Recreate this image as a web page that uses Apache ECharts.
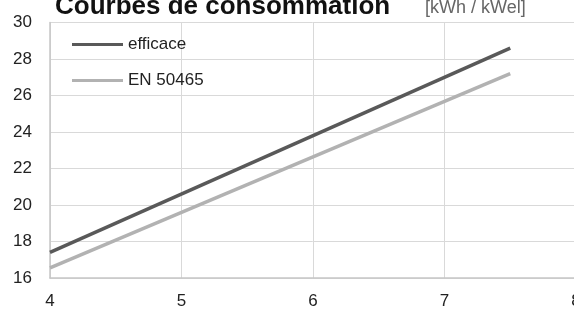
<!DOCTYPE html>
<html>
<head>
<meta charset="utf-8">
<script src="https://cdn.jsdelivr.net/npm/echarts@6/dist/echarts.min.js"></script>
<style>html,body{margin:0;padding:0;background:#fff;}#c{width:574px;height:309px;}</style>
</head>
<body>
<div id="c"></div>
<script>
const titleText = 'Courbes de consommation';
const unitText = '[kWh / kWel]';
const seriesNames = ['efficace', 'EN 50465'];
const xValues = [4, 7.5];
const efficaceValues = [17.4, 28.6];
const en50465Values = [16.55, 27.2];
const xTicks = [4, 5, 6, 7, 8];
const yTicks = [16, 18, 20, 22, 24, 26, 28, 30];

const chart = echarts.init(document.getElementById('c'), null, {renderer: 'canvas'});
const font = 'Liberation Sans, Arial, Helvetica, sans-serif';
chart.setOption({
  animation: false,
  backgroundColor: '#fff',
  textStyle: {fontFamily: font},
  graphic: [
    {type: 'text', left: 55, top: -6, style: {text: titleText, font: 'bold 26px ' + font, fill: '#111'}},
    {type: 'text', left: 425, top: -1, style: {text: unitText, font: '18px ' + font, fill: '#666'}}
  ],
  legend: {
    orient: 'vertical', left: 67, top: 31, itemWidth: 51, itemHeight: 3, itemGap: 19,
    icon: 'rect',
    textStyle: {fontSize: 17, color: '#222', fontFamily: font, lineHeight: 17},
    data: seriesNames
  },
  grid: {left: 50, top: 22.5, width: 526, height: 255.5, containLabel: false, outerBoundsMode: 'none'},
  xAxis: {
    type: 'value', min: xTicks[0], max: xTicks[xTicks.length - 1], interval: 1,
    axisLine: {show: true, lineStyle: {color: '#c6c6c6', width: 1.5}},
    axisTick: {show: false},
    axisLabel: {fontSize: 17, color: '#222', margin: 15, fontFamily: font},
    splitLine: {show: true, lineStyle: {color: '#d9d9d9', width: 1}}
  },
  yAxis: {
    type: 'value', min: yTicks[0], max: yTicks[yTicks.length - 1], interval: 2,
    axisLine: {show: true, lineStyle: {color: '#c6c6c6', width: 1.5}},
    axisTick: {show: false},
    axisLabel: {fontSize: 17, color: '#222', margin: 18, fontFamily: font},
    splitLine: {show: true, lineStyle: {color: '#d9d9d9', width: 1}}
  },
  series: [
    {name: seriesNames[0], type: 'line', symbol: 'none', data: xValues.map((x, i) => [x, efficaceValues[i]]),
     lineStyle: {color: '#595959', width: 3.5}, itemStyle: {color: '#595959'}},
    {name: seriesNames[1], type: 'line', symbol: 'none', data: xValues.map((x, i) => [x, en50465Values[i]]),
     lineStyle: {color: '#b2b2b2', width: 3.5}, itemStyle: {color: '#b2b2b2'}}
  ]
});
</script>
</body>
</html>
